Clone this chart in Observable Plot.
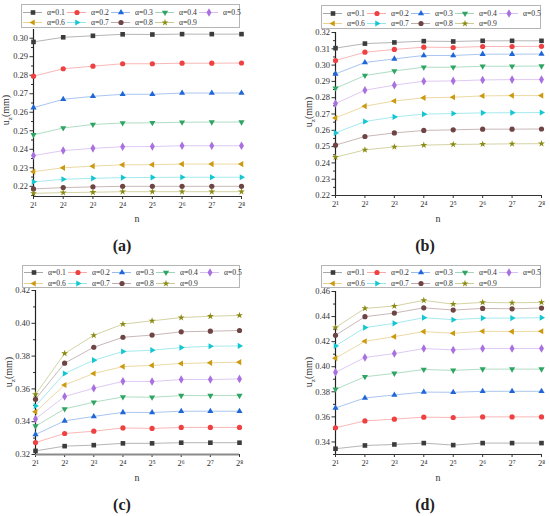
<!DOCTYPE html>
<html><head><meta charset="utf-8">
<script src="https://cdn.jsdelivr.net/npm/d3@7"></script>
<script src="https://cdn.jsdelivr.net/npm/@observablehq/plot@0.6"></script>
<style>
body{margin:0;background:#fff;font-family:"Liberation Serif",serif;color:#222;}
#root{position:relative;width:550px;height:516px;overflow:hidden;background:#fff;font-family:"Liberation Serif",serif;}
.abs{position:absolute;}
.legend{position:absolute;border:1px solid #b5b5b5;box-sizing:border-box;background:#fff;}
.item{position:absolute;display:flex;align-items:center;height:11px;font-size:9px;line-height:11px;color:#333;white-space:nowrap;font-family:"Liberation Serif",serif;}
.item svg{margin-right:5px;}
.item span{display:inline-block;transform:scaleX(0.85);transform-origin:left center;}
.cap{position:absolute;font-weight:bold;font-size:16px;transform:translate(-50%,-50%);font-family:"Liberation Serif",serif;}
.xl{position:absolute;font-size:10px;transform:translate(-50%,-50%);color:#333;font-family:"Liberation Serif",serif;}
.yl{position:absolute;font-size:10px;transform:translate(-50%,-50%) rotate(-90deg);white-space:nowrap;color:#333;font-family:"Liberation Serif",serif;}
.yl sub{font-size:7px;}
</style></head><body><div id="root"></div>
<script>
// ---------- data ----------
const exps = [1, 2, 3, 4, 5, 6, 7, 8];            // n = 2^exp
const supers = ["", "¹", "²", "³", "⁴", "⁵", "⁶", "⁷", "⁸"];
const alphaLabels = ["α=0.1", "α=0.2", "α=0.3", "α=0.4", "α=0.5", "α=0.6", "α=0.7", "α=0.8", "α=0.9"];
const colors = ["#3c3c3c", "#ef4141", "#1f66d6", "#2fa563", "#a970e0", "#cc9a10", "#14c6d2", "#6e4444", "#8b8b14"];

const uzA = [
  [0.2980, 0.3005, 0.3013, 0.3021, 0.3020, 0.3022, 0.3022, 0.3022],
  [0.2795, 0.2835, 0.2849, 0.2862, 0.2862, 0.2865, 0.2865, 0.2866],
  [0.2625, 0.2670, 0.2686, 0.2697, 0.2697, 0.2704, 0.2704, 0.2704],
  [0.2478, 0.2515, 0.2534, 0.2542, 0.2543, 0.2546, 0.2547, 0.2547],
  [0.2366, 0.2393, 0.2405, 0.2414, 0.2415, 0.2419, 0.2419, 0.2419],
  [0.2279, 0.2300, 0.2309, 0.2316, 0.2317, 0.2320, 0.2320, 0.2320],
  [0.2224, 0.2238, 0.2243, 0.2247, 0.2248, 0.2249, 0.2249, 0.2249],
  [0.2186, 0.2193, 0.2197, 0.2200, 0.2200, 0.2200, 0.2200, 0.2200],
  [0.2162, 0.2166, 0.2168, 0.2171, 0.2171, 0.2171, 0.2171, 0.2171]
];
const uzB = [
  [0.3104, 0.3132, 0.3139, 0.3147, 0.3145, 0.3149, 0.3149, 0.3149],
  [0.3028, 0.3079, 0.3096, 0.3110, 0.3108, 0.3114, 0.3114, 0.3115],
  [0.2946, 0.3016, 0.3038, 0.3059, 0.3059, 0.3067, 0.3067, 0.3068],
  [0.2858, 0.2936, 0.2964, 0.2987, 0.2987, 0.2993, 0.2993, 0.2994],
  [0.2764, 0.2846, 0.2877, 0.2901, 0.2903, 0.2909, 0.2911, 0.2911],
  [0.2676, 0.2748, 0.2780, 0.2799, 0.2803, 0.2811, 0.2813, 0.2813],
  [0.2584, 0.2654, 0.2682, 0.2699, 0.2703, 0.2707, 0.2708, 0.2709],
  [0.2509, 0.2562, 0.2584, 0.2599, 0.2603, 0.2607, 0.2607, 0.2608],
  [0.2435, 0.2480, 0.2498, 0.2509, 0.2513, 0.2515, 0.2517, 0.2518]
];
const uzC = [
  [0.3222, 0.3251, 0.3257, 0.3268, 0.3268, 0.3272, 0.3272, 0.3272],
  [0.3273, 0.3328, 0.3342, 0.3362, 0.3359, 0.3365, 0.3365, 0.3365],
  [0.3322, 0.3405, 0.3432, 0.3457, 0.3456, 0.3464, 0.3464, 0.3464],
  [0.3373, 0.3478, 0.3519, 0.3551, 0.3549, 0.3559, 0.3559, 0.3559],
  [0.3417, 0.3554, 0.3604, 0.3646, 0.3645, 0.3657, 0.3657, 0.3661],
  [0.3460, 0.3624, 0.3694, 0.3736, 0.3743, 0.3755, 0.3759, 0.3763],
  [0.3496, 0.3694, 0.3775, 0.3828, 0.3836, 0.3852, 0.3860, 0.3862],
  [0.3537, 0.3757, 0.3854, 0.3915, 0.3928, 0.3948, 0.3952, 0.3956],
  [0.3566, 0.3816, 0.3927, 0.3995, 0.4015, 0.4035, 0.4043, 0.4048]
];
const uzD = [
  [0.3346, 0.3372, 0.3380, 0.3391, 0.3375, 0.3391, 0.3391, 0.3391],
  [0.3513, 0.3568, 0.3582, 0.3598, 0.3595, 0.3600, 0.3600, 0.3600],
  [0.3671, 0.3751, 0.3775, 0.3798, 0.3796, 0.3804, 0.3804, 0.3804],
  [0.3820, 0.3920, 0.3947, 0.3978, 0.3971, 0.3981, 0.3981, 0.3981],
  [0.3955, 0.4074, 0.4105, 0.4145, 0.4134, 0.4145, 0.4145, 0.4145],
  [0.4068, 0.4203, 0.4240, 0.4280, 0.4267, 0.4283, 0.4280, 0.4283],
  [0.4166, 0.4312, 0.4346, 0.4391, 0.4375, 0.4388, 0.4388, 0.4391],
  [0.4251, 0.4399, 0.4428, 0.4470, 0.4452, 0.4465, 0.4462, 0.4468],
  [0.4312, 0.4465, 0.4484, 0.4529, 0.4499, 0.4513, 0.4510, 0.4513]
];

const ticksA = [0.22, 0.23, 0.24, 0.25, 0.26, 0.27, 0.28, 0.29, 0.30];
const minorA = [0.215, 0.225, 0.235, 0.245, 0.255, 0.265, 0.275, 0.285, 0.295];
const ticksB = [0.22, 0.23, 0.24, 0.25, 0.26, 0.27, 0.28, 0.29, 0.30, 0.31, 0.32];
const minorB = [0.225, 0.235, 0.245, 0.255, 0.265, 0.275, 0.285, 0.295, 0.305, 0.315];
const ticksC = [0.32, 0.34, 0.36, 0.38, 0.40, 0.42];
const minorC = [0.33, 0.35, 0.37, 0.39, 0.41];
const ticksD = [0.34, 0.36, 0.38, 0.40, 0.42, 0.44, 0.46];
const minorD = [0.33, 0.35, 0.37, 0.39, 0.41, 0.43, 0.45];

// ---------- symbols ----------
function tri(angle) {
  return {draw(ctx, size) {
    const r = Math.sqrt(size / 1.299) * 0.88;
    for (let k = 0; k < 3; k++) {
      const a = angle + k * 2 * Math.PI / 3;
      const x = r * Math.cos(a), y = r * Math.sin(a);
      if (k) ctx.lineTo(x, y); else ctx.moveTo(x, y);
    }
    ctx.closePath();
  }};
}
const star = {draw(ctx, size) { d3.symbolStar.draw(ctx, size * 0.7); }};
const symbols = [d3.symbolSquare, d3.symbolCircle, tri(-Math.PI / 2), tri(Math.PI / 2), d3.symbolDiamond,
                 tri(Math.PI), tri(0), d3.symbolCircle, star];
const DOT_R = 2.6;
const FONT = "'Liberation Serif', serif";

const root = document.getElementById("root");

function addPanel(cfg) {
  const marks = [];
  cfg.data.forEach((vals, i) => {
    const rows = exps.map((e, j) => ({x: e, y: vals[j]}));
    marks.push(Plot.line(rows, {x: "x", y: "y", stroke: colors[i], strokeOpacity: 0.38, strokeWidth: 1}));
  });
  marks.push(Plot.axisY({ticks: cfg.minor, tickFormat: () => "", tickSize: 2, label: null, stroke: "#333"}));
  marks.push(Plot.axisY({ticks: cfg.ticks, tickFormat: d => d.toFixed(2), tickSize: 3.5, tickPadding: 2, label: null, stroke: "#333", fontFamily: FONT}));
  marks.push(Plot.axisX({ticks: exps, tickFormat: e => "2" + supers[e], tickSize: 3, tickPadding: 2, label: null, stroke: "#333", fontFamily: FONT}));
  marks.push(Plot.ruleY([cfg.domain[0]], {stroke: cfg.bottomStroke || "#333", strokeWidth: cfg.bottomWidth || 1}));
  marks.push(Plot.ruleX([exps[0]], {stroke: "#222", strokeWidth: 1.2}));
  cfg.data.forEach((vals, i) => {
    const rows = exps.map((e, j) => ({x: e, y: vals[j]}));
    marks.push(Plot.dot(rows, {x: "x", y: "y", fill: colors[i], symbol: symbols[i], r: DOT_R}));
  });
  const svg = Plot.plot({
    width: 275, height: 235,
    marginLeft: cfg.ml, marginRight: cfg.mr, marginTop: cfg.mt, marginBottom: cfg.mb,
    x: {type: "linear", domain: [1, 8]},
    y: {domain: cfg.domain},
    style: {fontFamily: FONT, fontSize: "8.5px", color: "#333", background: "transparent", overflow: "visible"},
    marks
  });
  const holder = document.createElement("div");
  holder.className = "abs";
  holder.style.left = cfg.left + "px";
  holder.style.top = cfg.top + "px";
  holder.appendChild(svg);
  root.appendChild(holder);

  // legend
  const lg = document.createElement("div");
  lg.className = "legend";
  Object.assign(lg.style, {left: cfg.lg.x + "px", top: cfg.lg.y + "px", width: cfg.lg.w + "px", height: cfg.lg.h + "px"});
  alphaLabels.forEach((lab, i) => {
    const row = i < 5 ? 0 : 1, col = i < 5 ? i : i - 5;
    const it = document.createElement("div");
    it.className = "item";
    it.style.left = (1 + col * cfg.lg.pitch) + "px";
    it.style.top = (cfg.lg.rows[row] - 5.5) + "px";
    const s = d3.create("svg").attr("width", 19).attr("height", 11);
    s.append("line").attr("x1", 0).attr("x2", 19).attr("y1", 5.5).attr("y2", 5.5)
      .attr("stroke", colors[i]).attr("stroke-opacity", 0.45).attr("stroke-width", 1);
    s.append("path").attr("transform", "translate(10,5.5)")
      .attr("d", d3.symbol(symbols[i], DOT_R * DOT_R * Math.PI)()).attr("fill", colors[i]);
    it.appendChild(s.node());
    const sp = document.createElement("span");
    sp.textContent = lab;
    it.appendChild(sp);
    lg.appendChild(it);
  });
  root.appendChild(lg);

  // axis titles and caption
  const yl = document.createElement("div");
  yl.className = "yl";
  yl.innerHTML = "u<sub>z</sub>(mm)";
  yl.style.left = cfg.yl[0] + "px"; yl.style.top = cfg.yl[1] + "px";
  root.appendChild(yl);
  const xl = document.createElement("div");
  xl.className = "xl"; xl.textContent = "n";
  xl.style.left = cfg.xl[0] + "px"; xl.style.top = cfg.xl[1] + "px";
  root.appendChild(xl);
  const cap = document.createElement("div");
  cap.className = "cap"; cap.textContent = cfg.caption;
  cap.style.left = cfg.cap[0] + "px"; cap.style.top = cfg.cap[1] + "px";
  root.appendChild(cap);
}

addPanel({data: uzA, ticks: ticksA, minor: minorA, domain: [0.2145, 0.3047],
  left: 0, top: 0, ml: 33, mr: 34, mt: 29, mb: 39,
  lg: {x: 21, y: 4, w: 219, h: 24, pitch: 44, rows: [7.5, 17.5]},
  yl: [7, 110], xl: [137, 218], cap: [122, 246], caption: "(a)"});
addPanel({data: uzB, ticks: ticksB, minor: minorB, domain: [0.22, 0.32],
  left: 275, top: 0, ml: 60, mr: 9, mt: 32, mb: 40,
  lg: {x: 321, y: 5, w: 220, h: 24, pitch: 44, rows: [7, 17.5]},
  yl: [310, 112], xl: [438, 218], cap: [425, 246], caption: "(b)"});
addPanel({data: uzC, ticks: ticksC, minor: minorC, domain: [0.32, 0.42],
  left: 0, top: 255, ml: 35, mr: 36, mt: 35, mb: 36, bottomStroke: "#8a8a8a", bottomWidth: 2.2,
  lg: {x: 22, y: 265, w: 218, h: 23, pitch: 44, rows: [6, 17]},
  yl: [10, 372], xl: [137, 477], cap: [122, 505], caption: "(c)"});
addPanel({data: uzD, ticks: ticksD, minor: minorD, domain: [0.33, 0.46],
  left: 275, top: 255, ml: 60, mr: 9, mt: 36, mb: 36,
  lg: {x: 321, y: 265, w: 220, h: 23, pitch: 44, rows: [6, 17]},
  yl: [310, 372], xl: [438, 477], cap: [425, 505], caption: "(d)"});
</script></body></html>
